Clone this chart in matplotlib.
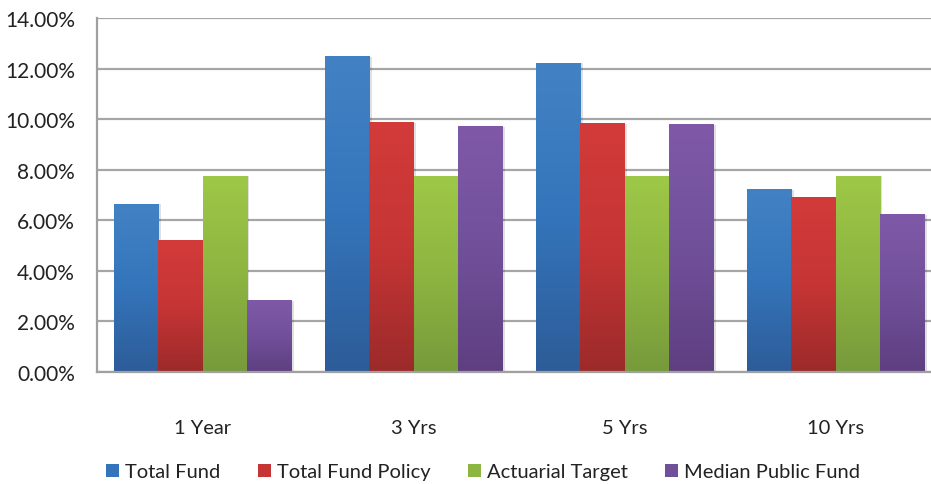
import matplotlib
matplotlib.use("Agg")
import matplotlib.pyplot as plt
import numpy as np
from matplotlib.colors import LinearSegmentedColormap
from matplotlib.patches import Patch
from matplotlib.ticker import FuncFormatter, MultipleLocator

categories = ["1 Year", "3 Yrs", "5 Yrs", "10 Yrs"]
series_names = ["Total Fund", "Total Fund Policy", "Actuarial Target", "Median Public Fund"]
total_fund = [6.64, 12.46, 12.22, 7.20]
total_fund_policy = [5.22, 9.85, 9.81, 6.92]
actuarial_target = [7.75, 7.75, 7.75, 7.75]
median_public_fund = [2.81, 9.69, 9.77, 6.21]

series = [total_fund, total_fund_policy, actuarial_target, median_public_fund]
top_colors = ["#4282C4", "#D23B39", "#9EC847", "#7F59A8"]
bot_colors = ["#2D5C98", "#9C2A2A", "#779A3B", "#5E3F80"]
mid_colors = ["#3474BA", "#C63535", "#8DB541", "#71509A"]

plt.rcParams["font.family"] = ["Lato", "DejaVu Sans"]

fig = plt.figure(figsize=(9.31, 4.85), dpi=100)
ax = fig.add_axes([97/931, 1-373/485, 844/931, (373-19)/485])

x = np.arange(len(categories))
n = len(series)
bw = 0.21
grad = np.linspace(0, 1, 256).reshape(-1, 1)
for i, (vals, tc, bc, mc) in enumerate(zip(series, top_colors, bot_colors, mid_colors)):
    offs = (i - (n - 1) / 2) * bw
    bars = ax.bar(x + offs, vals, width=bw, color=mc, zorder=2, linewidth=0)
    cmap = LinearSegmentedColormap.from_list("g%d" % i, [bc, mc, tc])
    for b in bars:
        x0 = b.get_x()
        w = b.get_width()
        h = b.get_height()
        ax.bar(x0 + w/2 + 0.012, h, width=w, bottom=0, color="#000000", alpha=0.12,
               zorder=1.5, linewidth=0)
        ax.imshow(grad, extent=[x0, x0 + w, 0, h], origin="lower", cmap=cmap,
                  aspect="auto", zorder=2.5, interpolation="bilinear")

ax.set_xlim(-0.5, len(categories) - 0.5)
ax.set_ylim(0, 14)
ax.yaxis.set_major_locator(MultipleLocator(2))
ax.yaxis.set_major_formatter(FuncFormatter(lambda v, p: "%.2f%%" % v))
ax.set_xticks(x)
ax.set_xticklabels(categories)
ax.tick_params(axis="x", length=0, pad=34, labelsize=14.5, colors="#222222")
ax.tick_params(axis="y", length=0, pad=16, labelsize=15, colors="#222222")
ax.grid(axis="y", color="#A6A6A6", linewidth=1.6, zorder=0)
ax.set_axisbelow(True)
for s in ["top", "right"]:
    ax.spines[s].set_visible(False)
for s in ["left", "bottom"]:
    ax.spines[s].set_color("#A0A0A0")
    ax.spines[s].set_linewidth(1.6)

handles = [Patch(facecolor=mc, edgecolor="none") for mc in mid_colors]
fig.legend(handles, series_names, loc="center", bbox_to_anchor=(0.519, 1-473/485),
           ncol=4, frameon=False, fontsize=14.5, handlelength=0.65, handleheight=0.65,
           handletextpad=0.3, columnspacing=1.85, labelcolor="#222222")

fig.savefig("out.png", dpi=100)
